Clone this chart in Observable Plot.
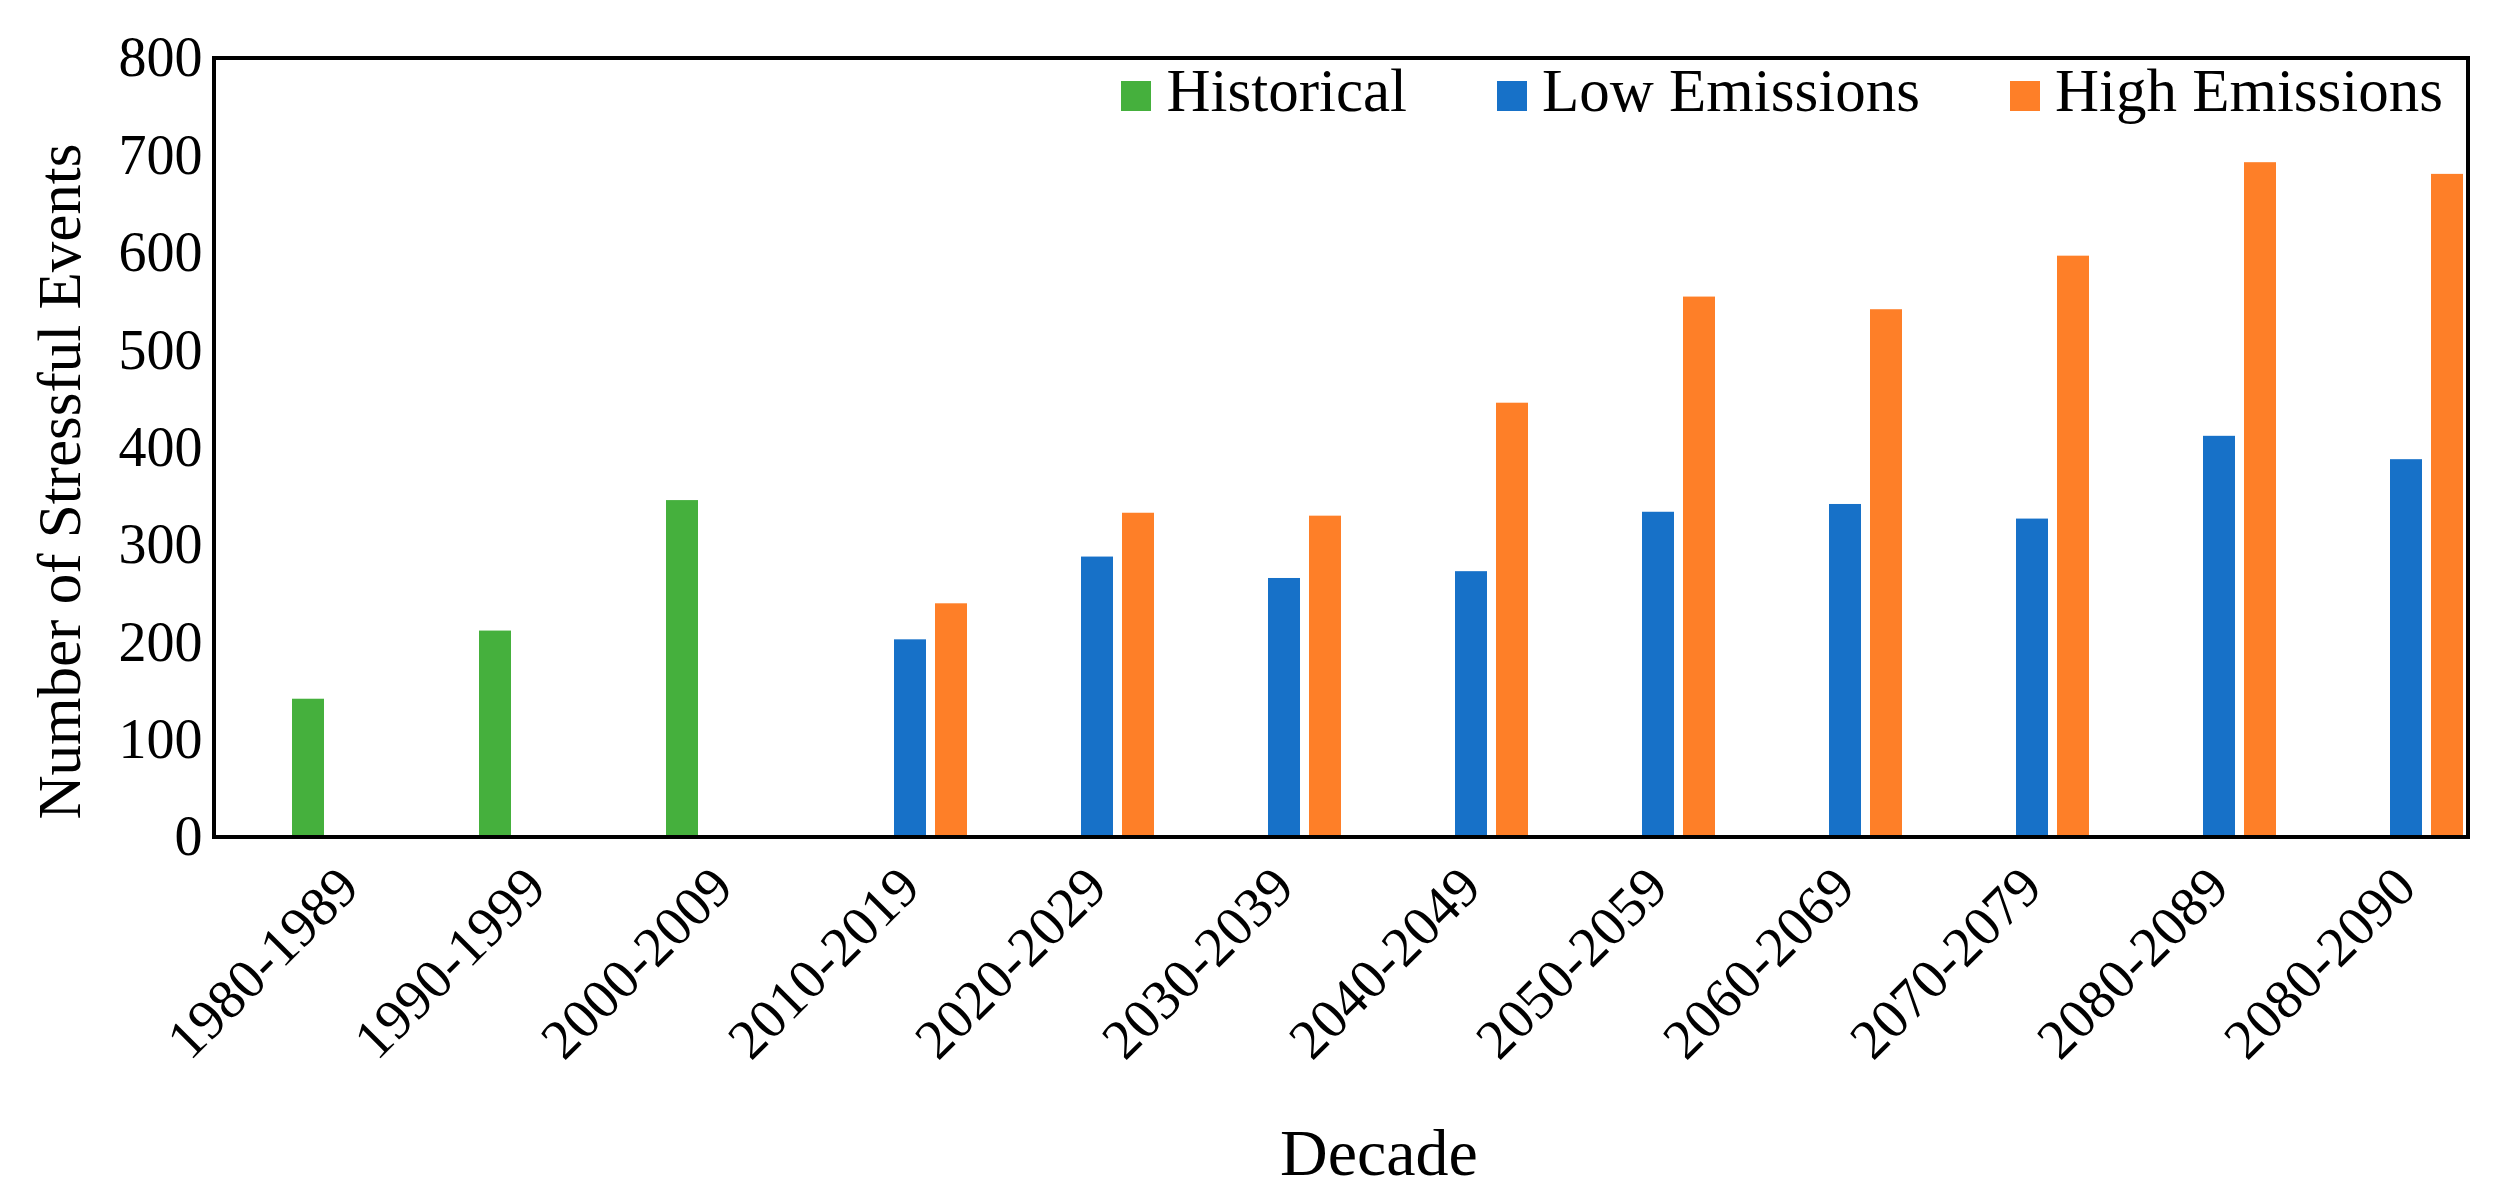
<!DOCTYPE html>
<html>
<head>
<meta charset="utf-8">
<script src="https://cdn.jsdelivr.net/npm/d3@7"></script>
<script src="https://cdn.jsdelivr.net/npm/@observablehq/plot@0.6"></script>
<style>
  html, body { margin: 0; padding: 0; background: #fff; }
  #wrap { position: relative; width: 2515px; height: 1201px; font-family: "Liberation Serif", "DejaVu Serif", serif; color: #000; }
  #ytitle { position: absolute; width: 800px; height: 61px; line-height: 61px; font-size: 61px; text-align: center; white-space: nowrap;
            left: -340.6px; top: 450.5px; transform: rotate(-90deg); }
  #legend { position: absolute; top: 60px; right: 72px; height: 61px; display: flex; gap: 90px; font-size: 61px; line-height: 61px; white-space: nowrap; }
  .item { display: flex; align-items: flex-start; gap: 15px; }
  .sw { width: 30px; height: 30px; margin-top: 21px; }
  #xtitle { height: 66px; line-height: 66px; font-size: 66px; text-align: center; padding-left: 258px; padding-right: 15px; }
</style>
</head>
<body>
<div id="wrap">
  <div id="chart"></div>
  <div id="xtitle"></div>
  <div id="ytitle"></div>
  <div id="legend"></div>
</div>
<script>
// ---- data ----
const decades = ["1980-1989","1990-1999","2000-2009","2010-2019","2020-2029","2030-2039","2040-2049","2050-2059","2060-2069","2070-2079","2080-2089","2080-2090"];
const historical = [142, 212, 346, null, null, null, null, null, null, null, null, null];
const lowEmissions = [null, null, null, 203, 288, 266, 273, 334, 342, 327, 412, 388];
const highEmissions = [null, null, null, 240, 333, 330, 446, 555, 542, 597, 693, 681];
const seriesNames = ["Historical", "Low Emissions", "High Emissions"];
const seriesColors = ["#45B03D", "#1771C8", "#FE7F28"];
const yLabel = "Number of Stressful Events";
const xLabel = "Decade";

const seriesValues = [historical, lowEmissions, highEmissions];
const table = [];
decades.forEach((d, i) => {
  seriesNames.forEach((s, j) => {
    const v = seriesValues[j][i];
    if (v != null) table.push({decade: d, series: s, value: v});
  });
});

const W = 2515, H = 1120;
const chart = Plot.plot({
  width: W,
  height: H,
  marginLeft: 214,
  marginRight: 47,
  marginTop: 58,
  marginBottom: H - 837,
  style: {fontFamily: "Liberation Serif, DejaVu Serif, serif", fontSize: "56px", background: "#fff", color: "#000"},
  fx: {domain: decades, paddingInner: 0.3867, paddingOuter: 0.204, align: 0.941, axis: "bottom", tickRotate: -45, tickSize: 0, tickPadding: 40, label: null},
  x: {domain: seriesNames, paddingInner: 0.229, paddingOuter: 0, axis: null},
  y: {domain: [0, 800], ticks: 8, tickSize: 0, tickPadding: 89, label: null},
  color: {domain: seriesNames, range: seriesColors},
  marks: [
    Plot.barY(table, {fx: "decade", x: "series", y: "value", fill: "series"})
  ]
});
document.getElementById("chart").appendChild(chart);

// frame around the whole plotting area, from the plot's own scales
const fxS = chart.scale("fx"), yS = chart.scale("y");
const x0 = Math.min(...fxS.range), x1 = Math.max(...fxS.range);
const y0 = Math.min(...yS.range), y1 = Math.max(...yS.range);
d3.select(chart).append("rect")
  .attr("x", x0).attr("y", y0).attr("width", x1 - x0).attr("height", y1 - y0)
  .attr("fill", "none").attr("stroke", "#000").attr("stroke-width", 4);

document.getElementById("xtitle").textContent = xLabel;
document.getElementById("ytitle").textContent = yLabel;
const legend = document.getElementById("legend");
seriesNames.forEach((s, i) => {
  const it = document.createElement("div"); it.className = "item";
  const sw = document.createElement("div"); sw.className = "sw"; sw.style.background = seriesColors[i];
  const tx = document.createElement("span"); tx.textContent = s;
  it.appendChild(sw); it.appendChild(tx); legend.appendChild(it);
});
</script>
</body>
</html>
